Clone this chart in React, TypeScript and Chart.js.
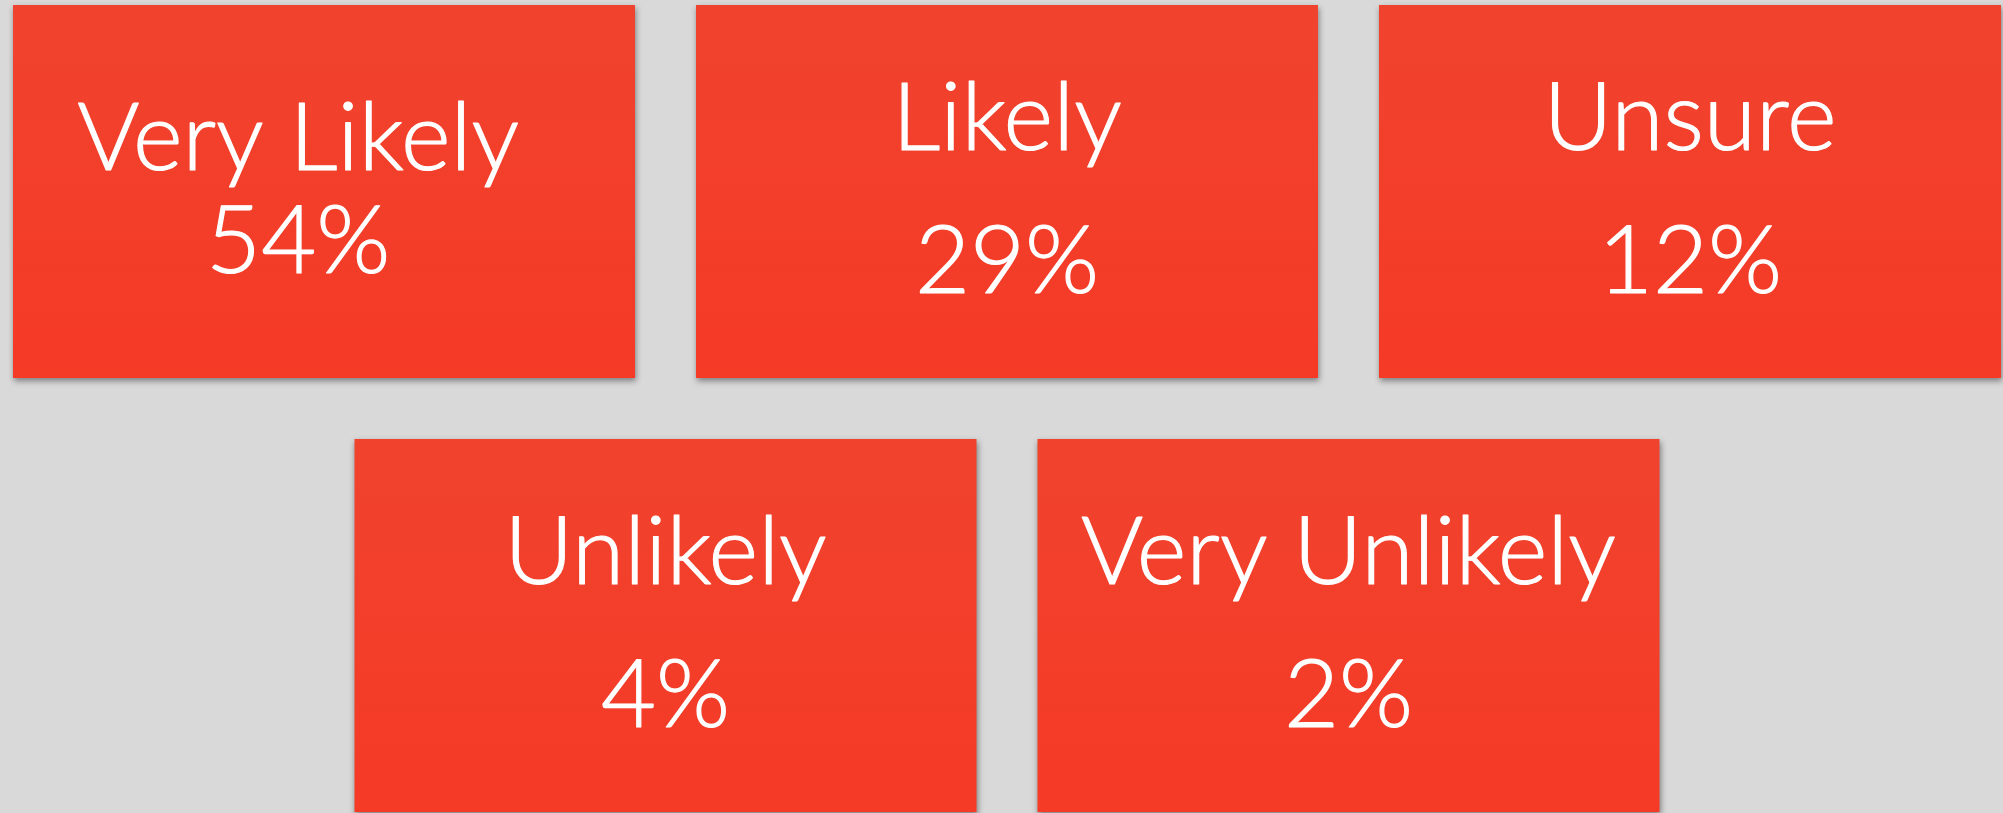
import React, { useEffect, useRef } from 'react';
import { Chart, registerables } from 'chart.js';

Chart.register(...registerables);

// ---- data ----
const categories = ['Very Likely', 'Likely', 'Unsure', 'Unlikely', 'Very Unlikely'];
const percentages = [54, 29, 12, 4, 2];
const tilesPerRow = [3, 2];

// ---- style ----
const W = 2003;
const H = 813;
const BG = '#d9d9d9';
const TILE_TOP = '#f0432e';
const TILE_BOTTOM = '#f53a26';
const FONT_FAMILY = 'Lato, "Open Sans", "DejaVu Sans", sans-serif';
const FONT_WEIGHT = 300;
const FONT_SIZE = 95;
const TEXT_STROKE = 1.2;
const TILE_WIDTH = 0.9107; // fraction of a column
const BAR_PCT = 0.8594; // fraction of a row
const LINE_GAP = 103; // wrapped line spacing
const PARA_GAP = 143; // paragraph spacing
const wrappedLabel = [true, false, false, false, false];

function gridSlots() {
  const maxCols = Math.max(...tilesPerRow);
  const slots: { col: number; row: number }[] = [];
  tilesPerRow.forEach((n, r) => {
    for (let j = 0; j < n; j++) slots.push({ col: (maxCols - n) / 2 + j, row: r });
  });
  return slots;
}

const tileShadow = {
  id: 'tileShadow',
  beforeDatasetsDraw(chart: any) {
    const c = chart.ctx;
    c.save();
    c.shadowColor = 'rgba(0,0,0,0.42)';
    c.shadowBlur = 6;
    c.shadowOffsetX = 1;
    c.shadowOffsetY = 3;
  },
  afterDatasetsDraw(chart: any) {
    chart.ctx.restore();
  },
};

const tileText = {
  id: 'tileText',
  afterDatasetsDraw(chart: any) {
    const ctx = chart.ctx;
    const meta = chart.getDatasetMeta(0);
    ctx.save();
    ctx.shadowColor = 'rgba(0,0,0,0)';
    ctx.shadowBlur = 0;
    ctx.fillStyle = '#ffffff';
    ctx.strokeStyle = '#ffffff';
    ctx.lineWidth = TEXT_STROKE;
    ctx.lineJoin = 'round';
    ctx.font = `${FONT_WEIGHT} ${FONT_SIZE}px ${FONT_FAMILY}`;
    ctx.textAlign = 'center';
    ctx.textBaseline = 'alphabetic';
    const capH = ctx.measureText('H').actualBoundingBoxAscent || FONT_SIZE * 0.72;
    meta.data.forEach((el: any, i: number) => {
      const { x, y, base } = el.getProps(['x', 'y', 'base'], true);
      const cx = (x + base) / 2;
      const lines = [categories[i], `${percentages[i]}%`];
      const gap = wrappedLabel[i] ? LINE_GAP : PARA_GAP;
      const shift = wrappedLabel[i] ? -ctx.measureText(' ').width : 0;
      const first = y - 3 - ((lines.length - 1) * gap) / 2 + capH / 2;
      lines.forEach((t, k) => {
        ctx.fillText(t, cx + shift, first + k * gap);
        ctx.strokeText(t, cx + shift, first + k * gap);
      });
    });
    ctx.restore();
  },
};

function tileFill(c: any) {
  const chart = c.chart;
  const ys = chart && chart.scales && chart.scales.y;
  if (!ys || !c.raw || c.raw.y === undefined) return TILE_TOP;
  const center = ys.getPixelForValue(c.raw.y);
  const rowPx = Math.abs(ys.getPixelForValue(1) - ys.getPixelForValue(0));
  const t = rowPx * BAR_PCT;
  if (!Number.isFinite(center) || !Number.isFinite(t) || t <= 0) return TILE_TOP;
  const g = chart.ctx.createLinearGradient(0, center - t / 2, 0, center + t / 2);
  g.addColorStop(0, TILE_TOP);
  g.addColorStop(1, TILE_BOTTOM);
  return g;
}

export default function App() {
  const ref = useRef<HTMLCanvasElement | null>(null);

  useEffect(() => {
    if (!ref.current) return;
    const slots = gridSlots();
    const data = slots.map((s) => ({
      x: [s.col - TILE_WIDTH / 2, s.col + TILE_WIDTH / 2],
      y: s.row,
    }));

    const chart = new Chart(ref.current, {
      type: 'bar',
      data: {
        labels: categories,
        datasets: [
          {
            data: data as any,
            borderWidth: 0,
            borderSkipped: false,
            categoryPercentage: 1,
            barPercentage: BAR_PCT,
            backgroundColor: tileFill,
          },
        ],
      },
      options: {
        indexAxis: 'y',
        animation: false,
        responsive: false,
        events: [],
        layout: { padding: 0 },
        plugins: {
          legend: { display: false },
          tooltip: { enabled: false },
          title: { display: false },
        },
        scales: {
          x: {
            type: 'linear',
            display: false,
            offset: false,
            min: -0.47438,
            max: 2.45827,
          },
          y: {
            type: 'linear',
            display: false,
            offset: false,
            grid: { offset: false },
            reverse: true,
            min: -0.4412,
            max: 1.4321,
            afterBuildTicks: (scale: any) => {
              scale.ticks = tilesPerRow.map((_, r) => ({ value: r }));
            },
          },
        },
      },
      plugins: [tileShadow, tileText],
    });
    return () => chart.destroy();
  }, []);

  return (
    <div
      style={{
        position: 'fixed',
        left: 0,
        top: 0,
        width: W,
        height: H,
        background: BG,
        overflow: 'hidden',
      }}
    >
      <canvas ref={ref} width={W} height={H} style={{ display: 'block', width: W, height: H }} />
    </div>
  );
}
